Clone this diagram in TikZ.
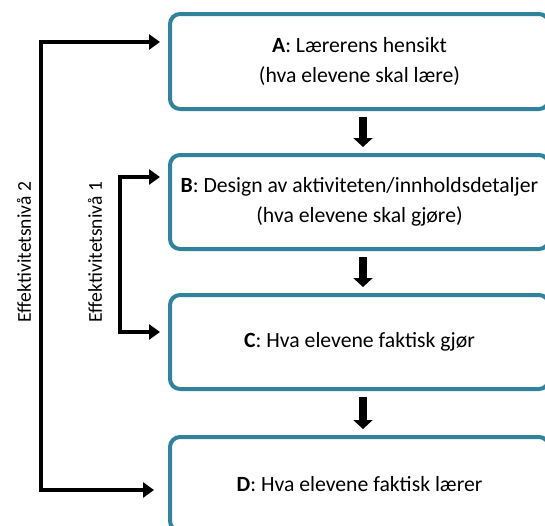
\documentclass[tikz,border=0pt]{standalone}
\usepackage{fontspec}
\setmainfont{Carlito}
\usetikzlibrary{arrows.meta}
\definecolor{boxteal}{RGB}{49,130,155}
\tikzset{
  stagebox/.style={draw=boxteal, line width=4pt, rounded corners=10pt, fill=white,
    minimum width=379pt, anchor=north west, align=center, font=\fontsize{21.7}{30}\selectfont},
  sidearr/.style={draw=black, line width=3.5pt, -{Triangle[length=11pt,width=15pt]}},
  downarr/.style={draw=black, line width=8pt, -{Triangle[length=9pt,width=19pt]}},
  levellabel/.style={rotate=90, font=\fontsize{19.6}{22}\selectfont}
}
\begin{document}
\begin{tikzpicture}[x=1pt,y=-1pt]
\useasboundingbox (0,0) rectangle (545,525);
\clip (0,0) rectangle (545,525);
\node[stagebox, minimum height=95pt] (A) at (168,12) {\textbf{A}: Lærerens hensikt\\(hva elevene skal lære)};
\node[stagebox, minimum height=94pt] (B) at (168,153) {\textbf{B}: Design av aktiviteten/innholdsdetaljer\\(hva elevene skal gjøre)};
\node[stagebox, minimum height=94pt] (C) at (168,293) {\textbf{C}: Hva elevene faktisk gjør};
\node[stagebox, minimum height=94pt] (D) at (168,435) {\textbf{D}: Hva elevene faktisk lærer};
\draw[downarr] ([xshift=3.5pt,yshift=-6pt]A.south) -- ([xshift=3.5pt,yshift=6pt]B.north);
\draw[downarr] ([xshift=3.5pt,yshift=-6pt]B.south) -- ([xshift=3.5pt,yshift=6pt]C.north);
\draw[downarr] ([xshift=3.5pt,yshift=-6pt]C.south) -- ([xshift=3.5pt,yshift=6pt]D.north);
\coordinate (l2t) at (41,42);
\coordinate (l2b) at (41,490);
\coordinate (l1t) at (120,177);
\coordinate (l1b) at (120,332);
\draw[sidearr, shorten >=8pt] (l2b) -- (l2t) -- (A.west |- l2t);
\draw[sidearr, shorten >=14pt] (l2t) -- (l2b) -- (D.west |- l2b);
\draw[sidearr, shorten >=8pt] (l1b) -- (l1t) -- (B.west |- l1t);
\draw[sidearr, shorten >=8pt] (l1t) -- (l1b) -- (C.west |- l1b);
\node[levellabel] (L2) at (24,252) {Effektivitetsnivå 2};
\node[levellabel] (L1) at (95,252) {Effektivitetsnivå 1};
\end{tikzpicture}
\end{document}
